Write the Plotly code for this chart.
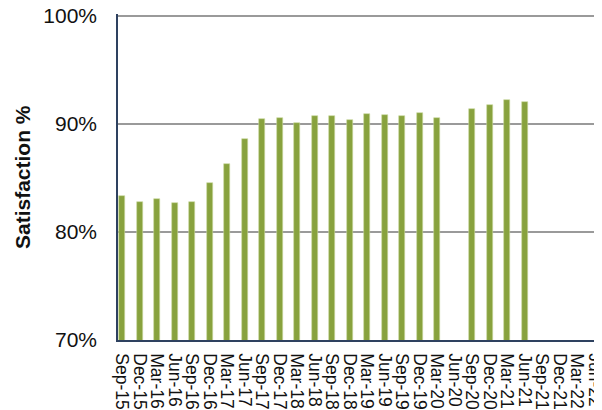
import plotly.graph_objects as go

categories = ["Sep-15", "Dec-15", "Mar-16", "Jun-16", "Sep-16", "Dec-16", "Mar-17", "Jun-17",
              "Sep-17", "Dec-17", "Mar-18", "Jun-18", "Sep-18", "Dec-18", "Mar-19", "Jun-19",
              "Sep-19", "Dec-19", "Mar-20", "Jun-20", "Sep-20", "Dec-20", "Mar-21", "Jun-21",
              "Sep-21", "Dec-21", "Mar-22", "Jun-22"]
satisfaction = [83.3, 82.8, 83.1, 82.7, 82.8, 84.5, 86.3, 88.6,
                90.5, 90.6, 90.1, 90.7, 90.7, 90.4, 90.9, 90.8,
                90.7, 91.0, 90.6, None, 91.4, 91.8, 92.2, 92.0,
                None, None, None, None]
y_ticks = [70, 80, 90, 100]
y_tick_labels = ["70%", "80%", "90%", "100%"]

xpos = list(range(len(categories)))
# the page body has an 8px margin, so the figure is sized to fit the window
OFF = 8
W, H = 602 - OFF, 410 - OFF
L, R, T, B = 118 - OFF, 2, 6, 70

fig = go.Figure()
fig.add_trace(go.Bar(
    x=xpos, y=satisfaction, width=0.34,
    marker=dict(color="#88A23E", line=dict(color="#C9D89E", width=0.6)),
    hoverinfo="x+y",
))

font = "Liberation Sans, Arial, sans-serif"
fig.update_layout(
    width=W, height=H,
    margin=dict(l=L, r=R, t=T, b=B, autoexpand=False),
    paper_bgcolor="white", plot_bgcolor="white",
    showlegend=False,
    bargap=0,
    xaxis=dict(
        range=[-0.23, 27.31], automargin=False,
        tickmode="array", tickvals=xpos, ticktext=categories,
        tickangle=90, ticklabeloverflow="allow",
        tickfont=dict(family=font, size=17.5, color="#111111"),
        showgrid=False, zeroline=False,
        showline=True, linecolor="#2E4160", linewidth=1.5,
        ticks="", ticklabelstandoff=8,
    ),
    yaxis=dict(
        range=[70, 100.185], automargin=False,
        tickmode="array", tickvals=y_ticks, ticktext=y_tick_labels,
        ticklabeloverflow="allow",
        tickfont=dict(family=font, size=21, color="#111111"),
        showgrid=True, gridcolor="#9A9A9A", gridwidth=2,
        zeroline=False,
        showline=True, linecolor="#2E4160", linewidth=1.5,
        ticks="", ticklabelstandoff=15,
    ),
    annotations=[dict(
        text="<b>Satisfaction %</b>", textangle=-90,
        xref="paper", yref="paper",
        x=(22 - 118) / (602 - 118 - R), y=0.5,
        xanchor="center", yanchor="middle", showarrow=False,
        font=dict(family=font, size=21, color="#111111"),
    )],
)

fig.write_html("out.html")
